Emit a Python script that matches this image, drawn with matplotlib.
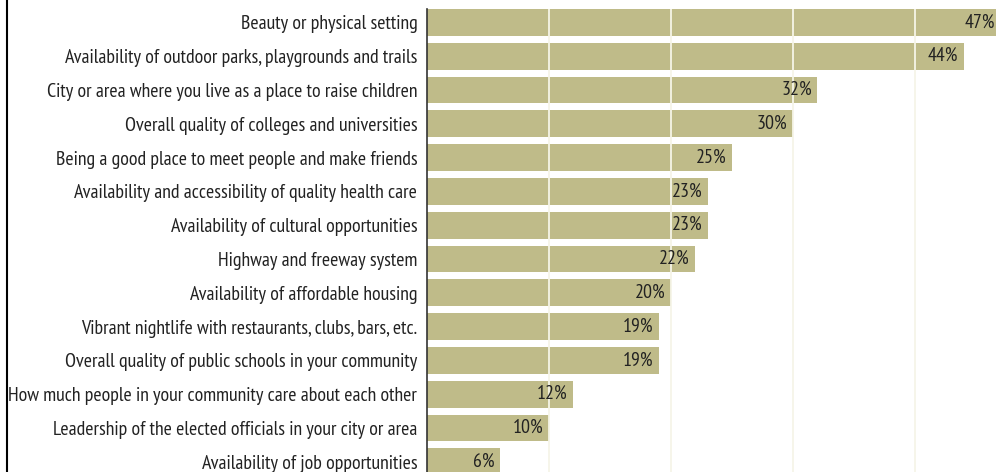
import matplotlib.pyplot as plt
from matplotlib.lines import Line2D

categories = [
    "Beauty or physical setting",
    "Availability of outdoor parks, playgrounds and trails",
    "City or area where you live as a place to raise children",
    "Overall quality of colleges and universities",
    "Being a good place to meet people and make friends",
    "Availability and accessibility of quality health care",
    "Availability of cultural opportunities",
    "Highway and freeway system",
    "Availability of affordable housing",
    "Vibrant nightlife with restaurants, clubs, bars, etc.",
    "Overall quality of public schools in your community",
    "How much people in your community care about each other",
    "Leadership of the elected officials in your city or area",
    "Availability of job opportunities",
]
values = [47, 44, 32, 30, 25, 23, 23, 22, 20, 19, 19, 12, 10, 6]
grid_ticks = [10, 20, 30, 40]

plt.rcParams["font.family"] = ["PT Sans Narrow", "DejaVu Sans"]

W, H = 996, 472
fig = plt.figure(figsize=(W / 100, H / 100), dpi=100)
x0 = 427
scale = 12.2
ax = fig.add_axes([x0 / W, 0, (W - x0) / W, (H - 9) / H])

bar_h = 0.79
pitch = 33.8
ys = list(range(len(categories)))
ax.barh(ys, values, height=bar_h, color="#bfbb89", zorder=2)
for x in grid_ticks:
    ax.axvline(x, color="#f6f5e8", lw=1.3, zorder=3)

for y, v in zip(ys, values):
    ax.annotate(f"{v}%", (v, y), xytext=(-4, 0), textcoords="offset points",
                ha="right", va="center", fontsize=14.3, color="#222222",
                zorder=4, annotation_clip=False)

ax.set_xlim(0, (W - x0) / scale)
top = -bar_h / 2
ax.set_ylim(top + (H - 9) / pitch, top)

ax.set_yticks(ys)
ax.set_yticklabels(categories, fontsize=14.3, color="#222222")
ax.tick_params(axis="y", length=0, pad=7)
ax.set_xticks([])
for s in ["top", "right", "bottom"]:
    ax.spines[s].set_visible(False)
ax.spines["left"].set_color("#333333")
ax.spines["left"].set_linewidth(1.2)

fig.add_artist(Line2D([6.5 / W, 6.5 / W], [0, 1], color="black", lw=1.5,
                      transform=fig.transFigure))

fig.savefig("out.png", dpi=100)
